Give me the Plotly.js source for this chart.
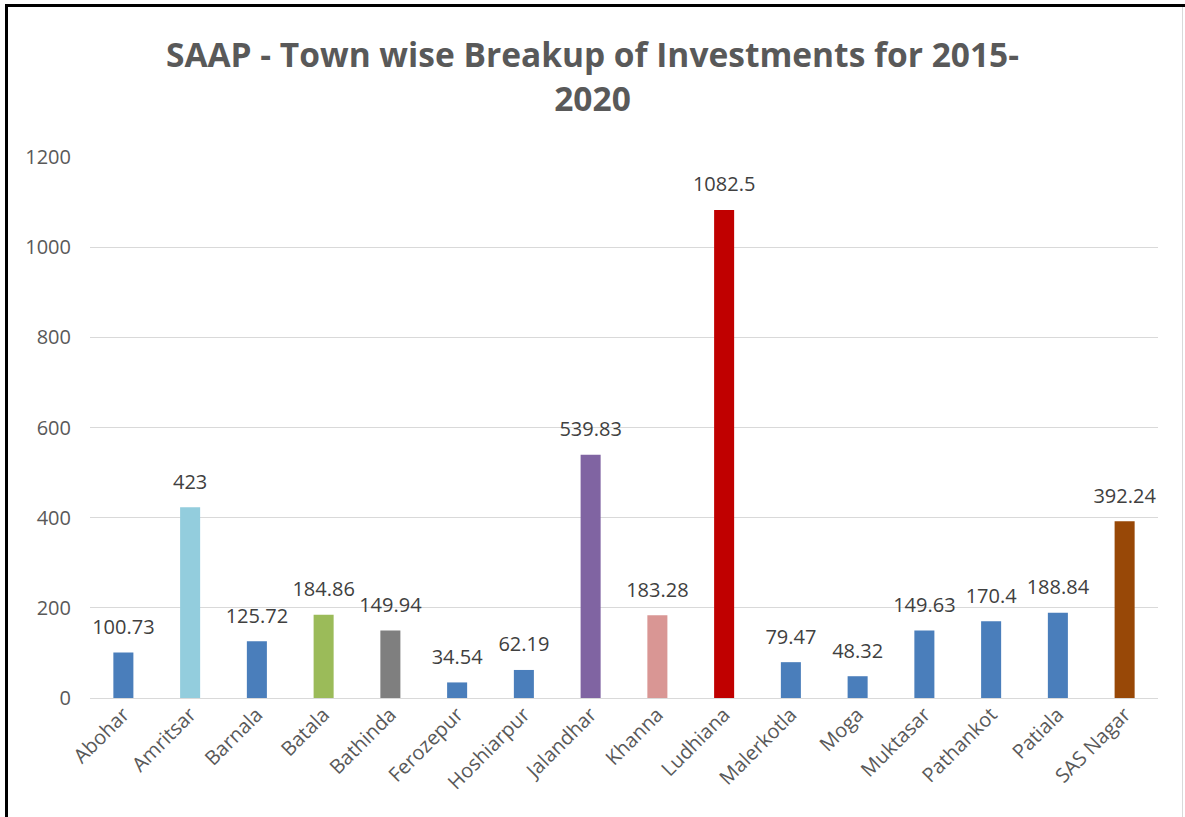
<!DOCTYPE html>
<html>
<head>
<meta charset="utf-8">
<script src="https://cdn.plot.ly/plotly-3.0.1.min.js"></script>
<style>
  html, body { margin: 0; padding: 0; background: #ffffff; }
  #wrap { position: relative; width: 1185px; height: 817px; overflow: hidden; }
  #chart { position: absolute; left: 0; top: 0; width: 1185px; height: 817px; }
  .frameTop { position: absolute; left: 5px; top: 4px; width: 1180px; height: 3px; background: #000; pointer-events: none; }
  .frameLeft { position: absolute; left: 5px; top: 4px; width: 3px; height: 813px; background: #000; pointer-events: none; }
  .frameRight { position: absolute; left: 1182px; top: 7px; width: 1px; height: 810px; background: #d9d9d9; pointer-events: none; }
</style>
</head>
<body>
<div id="wrap">
  <div id="chart"></div>
  <div class="frameTop"></div>
  <div class="frameLeft"></div>
  <div class="frameRight"></div>
</div>
<script>
const towns = ["Abohar","Amritsar","Barnala","Batala","Bathinda","Ferozepur","Hoshiarpur","Jalandhar","Khanna","Ludhiana","Malerkotla","Moga","Muktasar","Pathankot","Patiala","SAS Nagar"];
const investments = [100.73, 423, 125.72, 184.86, 149.94, 34.54, 62.19, 539.83, 183.28, 1082.5, 79.47, 48.32, 149.63, 170.4, 188.84, 392.24];
const barColors = ["#4a7ebb","#93cddd","#4a7ebb","#9bbb59","#7f7f7f","#4a7ebb","#4a7ebb","#8064a2","#d99694","#c00000","#4a7ebb","#4a7ebb","#4a7ebb","#4a7ebb","#4a7ebb","#984807"];
const yTicks = [0, 200, 400, 600, 800, 1000, 1200];
const labelText = investments.map(v => String(v));

const bars = {
  type: "bar",
  x: towns,
  y: investments,
  marker: { color: barColors, line: { width: 0 } },
  hoverinfo: "x+y"
};

const labels = {
  type: "scatter",
  mode: "markers+text",
  x: towns,
  y: investments,
  text: labelText,
  textposition: "top center",
  cliponaxis: false,
  marker: { size: 20, opacity: 0 },
  textfont: { family: "Open Sans, sans-serif", size: 20, color: "#404040" },
  hoverinfo: "skip"
};

const layout = {
  width: 1185,
  height: 817,
  margin: { l: 90, r: 27, t: 157, b: 119 },
  paper_bgcolor: "#ffffff",
  plot_bgcolor: "#ffffff",
  bargap: 0.7,
  showlegend: false,
  title: {
    text: "<b>SAAP - Town wise Breakup of Investments for 2015-<br>2020</b>",
    font: { family: "Open Sans, sans-serif", size: 33.5, color: "#595959" },
    x: 0.5,
    xanchor: "center",
    y: 0.918,
    yanchor: "top"
  },
  xaxis: {
    type: "category",
    range: [-0.5, towns.length - 0.5],
    autorange: false,
    tickangle: -45,
    tickfont: { family: "Open Sans, sans-serif", size: 20, color: "#595959" },
    showgrid: false,
    showline: false,
    zeroline: false,
    ticks: ""
  },
  yaxis: {
    range: [0, 1200],
    autorange: false,
    tickvals: yTicks,
    ticktext: yTicks.map(String),
    tickfont: { family: "Open Sans, sans-serif", size: 20, color: "#595959" },
    showgrid: true,
    gridcolor: "#d9d9d9",
    gridwidth: 1,
    zeroline: true,
    zerolinecolor: "#d9d9d9",
    zerolinewidth: 1,
    showline: false,
    ticks: "",
    ticklen: 0,
    ticklabelstandoff: 18
  }
};

Plotly.newPlot("chart", [bars, labels], layout, { displayModeBar: false, staticPlot: true });
</script>
</body>
</html>
